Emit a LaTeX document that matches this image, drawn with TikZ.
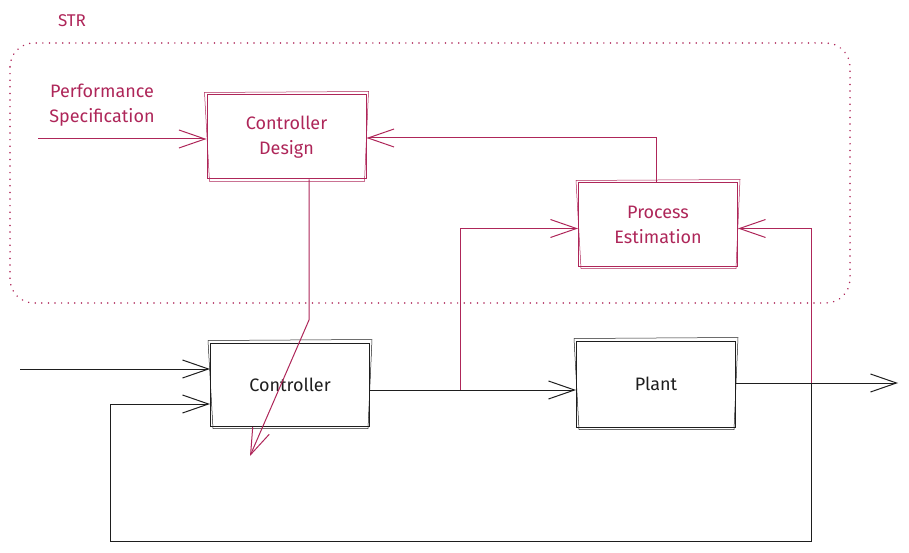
\documentclass[tikz,border=0pt]{standalone}
\usepackage{fontspec}
\setmainfont{Fira Sans}
\usetikzlibrary{arrows.meta,calc}
\definecolor{strred}{HTML}{AE2659}
\definecolor{ink}{HTML}{1E1E1E}
\begin{document}
\begin{tikzpicture}[x=1pt,y=-1pt,
  box/.style={draw, line width=1pt, minimum width=159pt, minimum height=84pt, align=center, inner sep=0pt, font=\fontsize{18}{25}\selectfont},
  redbox/.style={box, draw=strred, text=strred},
  blackbox/.style={box, draw=ink, text=ink},
  conn/.style={line width=1pt, -{Straight Barb[length=26pt,width=18pt,line width=1pt]}},
  redconn/.style={conn, draw=strred},
  blackconn/.style={conn, draw=ink},
  redline/.style={line width=1pt, draw=strred},
  blackline/.style={line width=1pt, draw=ink},
  sketch/.style={line width=0.5pt}]
\useasboundingbox (0,0) rectangle (909,553);
% STR region
\draw[strred, line width=1.6pt, line cap=round, dash pattern=on 0.1pt off 6.5pt, rounded corners=24pt] (10,43) rectangle (850,303);
\node[text=strred, font=\fontsize{17}{21}\selectfont] (strlabel) at (72,21) {STR};
\node[text=strred, align=center, font=\fontsize{18}{25}\selectfont] (perf) at (102,105) {Performance\\Specification};
% boxes
\node[redbox] (cd) at (286.5,137) {Controller\\Design};
\node[redbox, minimum height=83pt] (pe) at (658,224.5) {Process\\Estimation};
\node[blackbox, minimum height=83pt] (ctrl) at (290,384.5) {Controller};
\node[blackbox, minimum height=86pt] (plant) at (656,384) {Plant};
% sketch second strokes
\foreach \n/\c in {cd/strred, pe/strred, ctrl/ink, plant/ink}{
  \draw[sketch, draw=\c] ([shift={(-2pt,2pt)}]\n.north west) -- ([shift={(2pt,3pt)}]\n.north east)
     -- ([shift={(-2pt,-2pt)}]\n.south east) -- ([shift={(3pt,-2pt)}]\n.south west) -- cycle;
}
% coordinates
\coordinate (pin) at (38,139);
\coordinate (j1) at (460,390);
\coordinate (j2) at (811,383);
\coordinate (k1) at (309,320);
\coordinate (k2) at (250,456);
\coordinate (in) at (20,369);
\coordinate (out) at (898,383);
\coordinate (fb1) at (811,541);
\coordinate (fb2) at (110,404);
% red connectors
\draw[redconn] (pin) -- (pin -| cd.west);
\draw[redconn] ([xshift=-2pt]pe.north) |- ([yshift=-1pt]cd.east);
\draw[redconn] (j1) |- ([yshift=-4pt]pe.west);
\draw[redconn] (j2) |- ([yshift=-4pt]pe.east);
\draw[redconn] ([xshift=22.5pt]cd.south) -- (k1) -- (k2);
% black connectors
\draw[blackconn] (in) -- (in -| ctrl.west);
\draw[blackline] (ctrl.east |- j1) -- (j1);
\draw[blackconn] (j1) -- (j1 -| plant.west);
\draw[blackconn] (plant.east |- j2) -- (out);
\draw[blackconn] (j2) -- (fb1) -| (fb2) -- (fb2 -| ctrl.west);
\end{tikzpicture}
\end{document}
